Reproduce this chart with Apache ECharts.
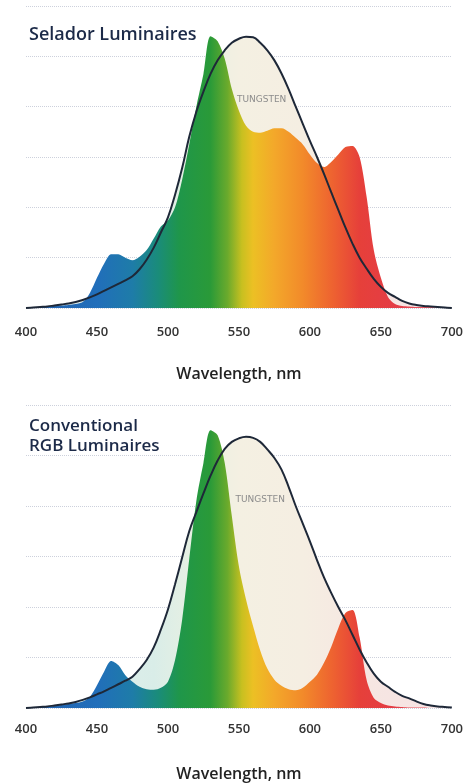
<!DOCTYPE html>
<html>
<head>
<meta charset="utf-8">
<title>Selador vs RGB spectrum</title>
<script src="https://cdn.jsdelivr.net/npm/echarts@6/dist/echarts.min.js"></script>
<style>
  html, body { margin: 0; padding: 0; background: #fff; }
  #spectrumChart { width: 466px; height: 783px; }
</style>
</head>
<body>
<div id="spectrumChart"></div>
<script>
// wavelength samples (nm)
var wavelengths = [400, 405, 410, 415, 420, 425, 430, 435, 440, 445, 450, 455, 460, 465, 470, 475, 480, 485, 490, 495,
  500, 505, 510, 515, 520, 525, 530, 535, 540, 545, 550, 555, 560, 565, 570, 575, 580, 585, 590, 595,
  600, 605, 610, 615, 620, 625, 630, 635, 640, 645, 650, 655, 660, 665, 670, 675, 680, 685, 690, 695, 700]

// top chart: Selador
var seladorValues = [0.00, 0.01, 0.02, 0.03, 0.04, 0.05, 0.06, 0.08, 0.12, 0.30, 0.60, 0.88, 1.07, 1.07, 1.00, 0.95, 1.02, 1.15, 1.38, 1.62,
  1.74, 2.00, 2.55, 3.25, 4.00, 4.65, 5.40, 5.30, 4.95, 4.35, 3.92, 3.62, 3.50, 3.48, 3.52, 3.57, 3.57, 3.50, 3.38, 3.25,
  3.05, 2.88, 2.80, 2.90, 3.05, 3.20, 3.22, 3.00, 2.20, 1.15, 0.60, 0.22, 0.08, 0.04, 0.03, 0.02, 0.02, 0.02, 0.01, 0.01, 0.00]
var tungstenTop = [0.00, 0.01, 0.02, 0.03, 0.05, 0.07, 0.09, 0.12, 0.16, 0.21, 0.27, 0.34, 0.41, 0.48, 0.55, 0.63, 0.77, 0.96, 1.20, 1.50,
  1.80, 2.25, 2.78, 3.40, 3.90, 4.30, 4.65, 4.92, 5.12, 5.27, 5.35, 5.39, 5.38, 5.27, 5.12, 4.92, 4.66, 4.35, 4.00, 3.66,
  3.32, 3.00, 2.66, 2.30, 1.95, 1.60, 1.28, 1.00, 0.78, 0.58, 0.42, 0.30, 0.22, 0.14, 0.09, 0.06, 0.04, 0.03, 0.02, 0.01, 0.00]

// bottom chart: conventional RGB
var rgbValues = [0.00, 0.01, 0.02, 0.03, 0.04, 0.06, 0.08, 0.10, 0.13, 0.22, 0.45, 0.72, 0.93, 0.85, 0.65, 0.52, 0.42, 0.37, 0.36, 0.40,
  0.52, 0.95, 1.75, 2.95, 4.10, 4.85, 5.50, 5.40, 4.85, 3.80, 2.80, 2.15, 1.62, 1.14, 0.78, 0.56, 0.44, 0.37, 0.35, 0.40,
  0.52, 0.66, 0.90, 1.21, 1.58, 1.88, 1.94, 1.40, 0.55, 0.20, 0.10, 0.05, 0.03, 0.02, 0.01, 0.01, 0.01, 0.00, 0.00, 0.00, 0.00]
var tungstenBottom = [0.00, 0.01, 0.02, 0.03, 0.05, 0.07, 0.09, 0.12, 0.16, 0.21, 0.27, 0.33, 0.40, 0.47, 0.54, 0.62, 0.77, 0.95, 1.20, 1.55,
  1.95, 2.45, 2.98, 3.50, 3.88, 4.25, 4.60, 4.90, 5.13, 5.27, 5.34, 5.37, 5.35, 5.27, 5.12, 4.95, 4.72, 4.38, 4.00, 3.65,
  3.30, 2.93, 2.58, 2.28, 2.00, 1.74, 1.45, 1.16, 0.90, 0.68, 0.52, 0.42, 0.32, 0.24, 0.19, 0.13, 0.08, 0.05, 0.03, 0.02, 0.01]

var titles = ['Selador Luminaires', 'Conventional\nRGB Luminaires']
var tungstenLabel = 'TUNGSTEN'
var labelPoints = [[566, 4.13], [565, 4.12]]

var fontFamily = '"Open Sans", "Noto Sans", sans-serif'

function pairs (values) {
  return wavelengths.map(function (w, i) { return [w, values[i]] })
}

// rainbow fill, 400 -> 700 nm
function spectrumFill () {
  return new echarts.graphic.LinearGradient(0, 0, 1, 0, [
    { offset: 0, color: '#2260ae' },
    { offset: 0.167, color: '#216eba' },
    { offset: 0.25, color: '#1e7ca8' },
    { offset: 0.31, color: '#1a8c7a' },
    { offset: 0.36, color: '#1f964a' },
    { offset: 0.433, color: '#2a9a38' },
    { offset: 0.473, color: '#6aaa2c' },
    { offset: 0.507, color: '#c8c020' },
    { offset: 0.533, color: '#ecc024' },
    { offset: 0.583, color: '#f3a82a' },
    { offset: 0.65, color: '#f28a2a' },
    { offset: 0.717, color: '#ee6430' },
    { offset: 0.783, color: '#e6403a' },
    { offset: 0.867, color: '#e43c46' },
    { offset: 1, color: '#ec6a78' }
  ])
}

function tungstenFill () {
  return new echarts.graphic.LinearGradient(0, 0, 1, 0, [
    { offset: 0, color: '#e4f0f0' },
    { offset: 0.3, color: '#d9ede8' },
    { offset: 0.4, color: '#e8f0e2' },
    { offset: 0.5, color: '#f4f0e2' },
    { offset: 0.65, color: '#f5eee2' },
    { offset: 0.8, color: '#f6e6e2' },
    { offset: 1, color: '#f6e2e4' }
  ])
}

function xAxisFor (gridIndex, labelMargin, nameGap) {
  return {
    gridIndex: gridIndex,
    type: 'value',
    min: 400,
    max: 700,
    interval: 50,
    name: 'Wavelength, nm',
    nameLocation: 'middle',
    nameGap: nameGap,
    nameTextStyle: { color: '#222', fontSize: 16, fontWeight: 600, fontFamily: fontFamily },
    axisLine: { show: false },
    axisTick: { show: false },
    splitLine: { show: false },
    axisLabel: { color: '#333', fontSize: 13, fontWeight: 600, margin: labelMargin, fontFamily: fontFamily }
  }
}

function yAxisFor (gridIndex) {
  return {
    gridIndex: gridIndex,
    type: 'value',
    min: 0,
    max: 6,
    interval: 1,
    axisLine: { show: false },
    axisTick: { show: false },
    axisLabel: { show: false },
    splitLine: { show: true, lineStyle: { color: '#cdd1dc', type: 'dotted', width: 1 } }
  }
}

function tungstenSeries (idx, values) {
  return {
    type: 'line',
    xAxisIndex: idx,
    yAxisIndex: idx,
    data: pairs(values),
    smooth: 0.4,
    showSymbol: false,
    silent: true,
    lineStyle: { color: '#1e2838', width: 2 },
    areaStyle: { color: tungstenFill(), opacity: 1 },
    markPoint: {
      symbol: 'circle',
      symbolSize: 0,
      silent: true,
      label: { show: true, formatter: tungstenLabel, color: '#8c8c8c', fontSize: 9, fontFamily: 'DejaVu Sans' },
      data: [{ coord: labelPoints[idx] }]
    }
  }
}

function spectrumSeries (idx, values) {
  return {
    type: 'line',
    xAxisIndex: idx,
    yAxisIndex: idx,
    data: pairs(values),
    smooth: 0.3,
    showSymbol: false,
    silent: true,
    lineStyle: { width: 0, opacity: 0 },
    areaStyle: { color: spectrumFill(), opacity: 1 }
  }
}

var chart = echarts.init(document.getElementById('spectrumChart'))
chart.setOption({
  animation: false,
  backgroundColor: '#fff',
  title: [
    {
      text: titles[0],
      left: 24,
      top: 21,
      textStyle: { color: '#1c2a48', fontSize: 18, fontWeight: 600, fontFamily: fontFamily }
    },
    {
      text: titles[1],
      left: 24,
      top: 411,
      textStyle: { color: '#1c2a48', fontSize: 17, fontWeight: 600, lineHeight: 20, fontFamily: fontFamily }
    }
  ],
  grid: [
    { left: 26, right: 12, top: 6, height: 302 },
    { left: 26, right: 12, top: 405, height: 303 }
  ],
  xAxis: [xAxisFor(0, 18, 58), xAxisFor(1, 15, 58)],
  yAxis: [yAxisFor(0), yAxisFor(1)],
  series: [
    tungstenSeries(0, tungstenTop),
    spectrumSeries(0, seladorValues),
    tungstenSeries(1, tungstenBottom),
    spectrumSeries(1, rgbValues)
  ]
})
</script>
</body>
</html>
